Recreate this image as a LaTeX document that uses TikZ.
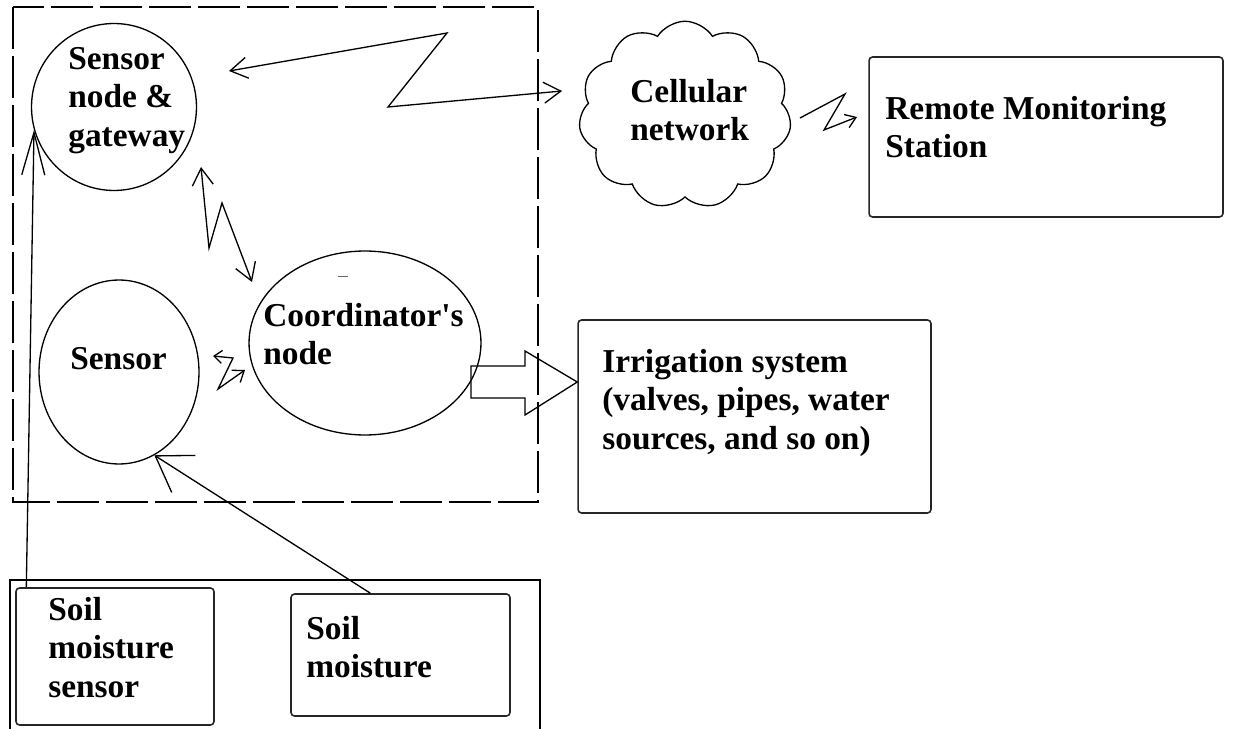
\documentclass[tikz,border=0pt]{standalone}
\usepackage{fontspec}
\setmainfont{Liberation Serif}
\usetikzlibrary{
  shapes.geometric,
  shapes.symbols,
  arrows.meta
}

\begin{document}
\begin{tikzpicture}[x=0.02cm, y=-0.02cm]
  \tikzset{
    wire/.style = {line width=0.75pt},
    blocktext/.style = {
      anchor=north west, inner sep=0pt, align=left,
      font=\fontsize{19}{21.8}\selectfont\bfseries
    },
    bubble/.style = {draw, ellipse, wire, inner sep=0pt},
    panel/.style = {draw, rectangle, rounded corners=2pt,
      line width=0.9pt, draw=black!85, inner sep=0pt},
    radio/.style = {wire,
      {Straight Barb[length=0.34cm, width=0.42cm]}-{Straight Barb[length=0.34cm, width=0.42cm]}},
  }
  \useasboundingbox (0,0) rectangle (1236,729);

  % field frame (dashed) and the ground container below it
  \draw[wire, dash pattern=on 0.85cm off 0.13cm] (13,7) rectangle (538,502);
  \draw[wire] (10,729) -- (10,580) -- (540,580) -- (540,729);

  % shapes
  \node[bubble, minimum width=3.3cm, minimum height=3.34cm] (gateway) at (114,107) {};
  \node[bubble, minimum width=3.2cm, minimum height=3.68cm] (sensor) at (119,372) {};
  \node[bubble, minimum width=4.64cm, minimum height=3.68cm] (coord) at (365,343) {};
  \node[cloud, draw, wire, cloud puffs=11, cloud puff arc=115, aspect=1.25,
    minimum width=4.25cm, minimum height=3.75cm, inner sep=0pt] (cellnet) at (685,115) {};
  \node[panel, minimum width=7.08cm, minimum height=3.2cm] (remote) at (1046,137) {};
  \node[panel, minimum width=7.06cm, minimum height=3.86cm] (irrig) at (754.5,416.5) {};
  \node[panel, minimum width=3.96cm, minimum height=2.74cm] (soilsensor) at (115,656.5) {};
  \node[panel, minimum width=4.38cm, minimum height=2.44cm] (soil) at (400.5,655) {};

  % texts
  \node[blocktext] (gatewaytxt) at (68,47) {Sensor\\node \&\\gateway};
  \node[blocktext] (sensortxt) at (70,347) {Sensor};
  \node[blocktext] (coordtxt) at (263,303) {Coordinator\textquotesingle s\\node};
  \node[blocktext] (cellnettxt) at (630,79) {Cellular\\network};
  \node[blocktext] (remotetxt) at (885,96) {Remote Monitoring\\Station};
  \node[blocktext] (irrigtxt) at (602,349) {Irrigation system\\(valves, pipes, water\\sources, and so on)};
  \node[blocktext] (soilsensortxt) at (48,597) {Soil\\moisture\\sensor};
  \node[blocktext] (soiltxt) at (306,616) {Soil\\moisture};

  % free ends of the radio links
  \coordinate (gwlink) at (229,71);
  \coordinate (celllink) at (562,91);
  \coordinate (gwdown) at (201,167);
  \coordinate (coordup) at (252,282);
  \coordinate (sensorlink) at (213,356);
  \coordinate (coordlink) at (245,370);
  \coordinate (cellout) at (800,118);
  \coordinate (remotein) at (857,117);

  % radio links
  \draw[radio] (gwlink) -- (447,33) -- (388,107) -- (celllink);
  \draw[radio] (gwdown) -- (209,248) -- (222,203) -- (coordup);
  \draw[wire, {Straight Barb[length=0.16cm, width=0.26cm]}-{Straight Barb[length=0.2cm, width=0.3cm]}]
    (sensorlink) -- (233,358) -- (218,389) -- (coordlink);
  \draw[wire, -{Straight Barb[length=0.2cm, width=0.28cm]}]
    (cellout) -- (845,94) -- (824,130) -- (remotein);

  % wired links from the ground
  \draw[wire, -{Straight Barb[length=0.85cm, width=0.46cm]}] (soilsensor.142) -- (gateway.196);
  \draw[wire, -{Straight Barb[length=0.67cm, width=0.88cm]}] (soil.116) -- (sensor.293);

  % control output to the irrigation system
  \draw[wire] (471,366) -- (525,366) -- (525,351) -- (irrig.west |- 0,382)
    -- (525,415) -- (525,398) -- (471,398) -- cycle;

  % stray mark above the coordinator
  \draw[line width=0.5pt, black!60] (338,276) -- (348,276);
\end{tikzpicture}
\end{document}
